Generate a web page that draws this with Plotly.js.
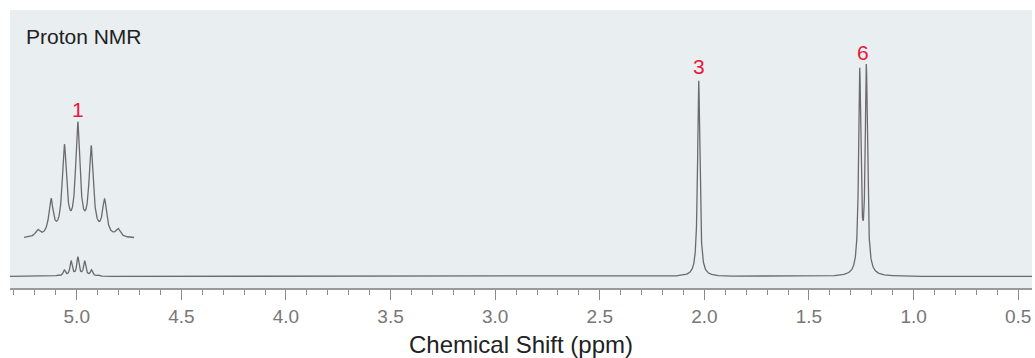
<!DOCTYPE html>
<html>
<head>
<meta charset="utf-8">
<script src="https://cdn.plot.ly/plotly-3.0.1.min.js"></script>
<style>html,body{margin:0;padding:0;background:#fff;}#chart{width:1035px;height:358px;}</style>
</head>
<body>
<div id="chart"></div>
<script>
// Peak list (ppm, intensity in arbitrary units)
const peakShifts  = [5.092, 5.0595, 5.027, 4.9945, 4.962, 4.9295, 4.897, 2.027, 1.2574, 1.2258];
const peakHeights = [1.1,   6.0,    14.9,  18.6,   14.7,  5.9,    1.3,   195.8, 201,    205];
const lineHalfWidth = 0.0063; // ppm, Lorentzian half width at half maximum

// Multiplicity labels (proton counts)
const labelTexts  = ['1', '3', '6'];
const labelShifts = [4.994, 2.027, 1.243];
const labelLevels = [167.5, 209.8, 224.5];

const xRange = [5.319, 0.434];
const insetRange = [5.1252, 4.8573];

function spectrum(from, to, step) {
  const xs = [], ys = [];
  for (let x = from; x >= to; x -= step) {
    let y = 0;
    for (let i = 0; i < peakShifts.length; i++) {
      const d = (x - peakShifts[i]) / lineHalfWidth;
      y += peakHeights[i] / (1 + d * d);
    }
    xs.push(x); ys.push(y);
  }
  return {xs, ys};
}

const main = spectrum(xRange[0], xRange[1], 0.0005);
const inset = spectrum(insetRange[0], insetRange[1], 0.0002);

const lineStyle = {color: '#6b6b6b', width: 1.3};

const traces = [
  {x: main.xs, y: main.ys, type: 'scatter', mode: 'lines', line: lineStyle, hoverinfo: 'skip', xaxis: 'x', yaxis: 'y'},
  {x: inset.xs, y: inset.ys, type: 'scatter', mode: 'lines', line: lineStyle, hoverinfo: 'skip', xaxis: 'x2', yaxis: 'y2'}
];

const font = 'Liberation Sans, Arial, Helvetica, sans-serif';

const annotations = labelTexts.map((t, i) => ({
  x: labelShifts[i], y: labelLevels[i], xref: 'x', yref: 'y',
  text: t, showarrow: false, xanchor: 'center', yanchor: 'middle',
  font: {family: font, size: 21, color: '#e8193c'}
}));
annotations.push({
  x: 0.0137, y: 0.906, xref: 'paper', yref: 'paper', text: 'Proton NMR',
  showarrow: false, xanchor: 'left', yanchor: 'middle',
  font: {family: font, size: 21, color: '#222222'}
});

const layout = {
  width: 1035, height: 358,
  margin: {l: 10, r: 3, t: 10, b: 70},
  paper_bgcolor: '#ffffff',
  plot_bgcolor: '#e9eef1',
  showlegend: false,
  font: {family: font},
  xaxis: {
    range: xRange, showgrid: false, zeroline: false,
    showline: true, linecolor: '#9a9a9a', linewidth: 2,
    ticks: 'outside', ticklen: 10, tickwidth: 1, tickcolor: '#8a8a8a',
    dtick: 0.5, tick0: 0, tickformat: '.1f',
    tickfont: {family: font, size: 19, color: '#777777'},
    minor: {dtick: 0.1, ticks: 'outside', ticklen: 5, tickwidth: 1, tickcolor: '#8a8a8a'},
    title: {text: 'Chemical Shift (ppm)', font: {family: font, size: 24, color: '#222222'}, standoff: 11}
  },
  yaxis: {range: [-11.5, 266.5], visible: false, fixedrange: true},
  xaxis2: {range: insetRange, domain: [0.0137, 0.1216], anchor: 'y2', visible: false},
  yaxis2: {range: [-1.066, 23.47], domain: [0.1547, 0.6763], anchor: 'x2', visible: false},
  annotations: annotations
};

Plotly.newPlot('chart', traces, layout, {displayModeBar: false, staticPlot: true});
</script>
</body>
</html>
